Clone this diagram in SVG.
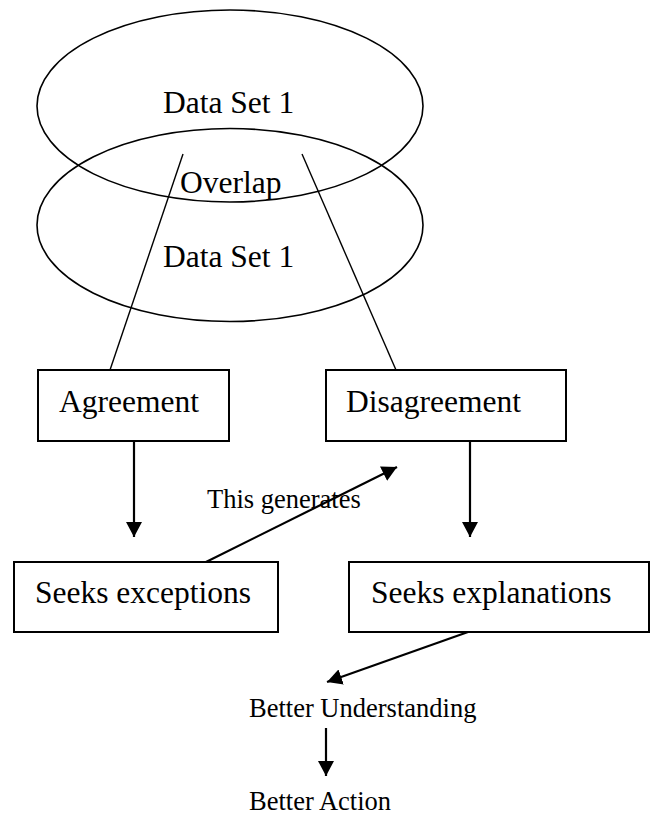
<svg xmlns="http://www.w3.org/2000/svg" width="651" height="816" viewBox="0 0 651 816">
  <style>
    .bg { fill: #ffffff; }
    .shape { fill: none; stroke: #000000; stroke-width: 1.6; }
    .box { fill: none; stroke: #000000; stroke-width: 2; }
    .thin { fill: none; stroke: #000000; stroke-width: 1.4; }
    .arrow { fill: none; stroke: #000000; stroke-width: 2.2; marker-end: url(#head); }
    .big { font-family: "Liberation Serif", "Times New Roman", serif; font-size: 31.5px; fill: #000000; }
    .small { font-family: "Liberation Serif", "Times New Roman", serif; font-size: 26.5px; fill: #000000; }
  </style>
  <defs>
    <marker id="head" markerUnits="userSpaceOnUse" markerWidth="16" markerHeight="16" refX="15" refY="8" orient="auto" viewBox="0 0 16 16">
      <path d="M0,0 L15,8 L0,16 z" fill="#000000"/>
    </marker>
  </defs>
  <rect class="bg" x="0" y="0" width="651" height="816"/>

  <!-- two overlapping data sets -->
  <g id="dataset-top">
    <ellipse class="shape" cx="230" cy="106" rx="193" ry="96"/>
    <text class="big" x="163" y="113">Data Set 1</text>
  </g>
  <g id="dataset-bottom">
    <ellipse class="shape" cx="230" cy="225" rx="193" ry="96.5"/>
    <text class="big" x="163" y="267">Data Set 1</text>
  </g>
  <g id="overlap">
    <text class="big" x="180" y="193">Overlap</text>
  </g>

  <!-- outcome boxes -->
  <g id="agreement">
    <rect class="box" x="38" y="370" width="191" height="71"/>
    <text class="big" x="59" y="412">Agreement</text>
  </g>
  <g id="disagreement">
    <rect class="box" x="326" y="370" width="240" height="71"/>
    <text class="big" x="346" y="412">Disagreement</text>
  </g>
  <g id="seeks-exceptions">
    <rect class="box" x="14" y="562" width="264" height="70"/>
    <text class="big" x="35" y="603">Seeks exceptions</text>
  </g>
  <g id="seeks-explanations">
    <rect class="box" x="349" y="562" width="300" height="70"/>
    <text class="big" x="371" y="603">Seeks explanations</text>
  </g>
  <g id="better-understanding">
    <text class="small" x="249" y="717">Better Understanding</text>
  </g>
  <g id="better-action">
    <text class="small" x="249" y="810">Better Action</text>
  </g>

  <!-- connectors -->
  <g id="connectors">
    <line class="thin" x1="183" y1="154" x2="110" y2="370"/>
    <line class="thin" x1="302" y1="154" x2="396" y2="370"/>
    <line class="arrow" x1="134" y1="441" x2="134" y2="537"/>
    <line class="arrow" x1="470" y1="441" x2="470" y2="537"/>
    <line class="arrow" x1="206" y1="562" x2="397" y2="467"/>
    <text class="small" x="207" y="508">This generates</text>
    <line class="arrow" x1="468" y1="632" x2="327" y2="682"/>
    <line class="arrow" x1="326" y1="728" x2="326" y2="776"/>
  </g>
</svg>
